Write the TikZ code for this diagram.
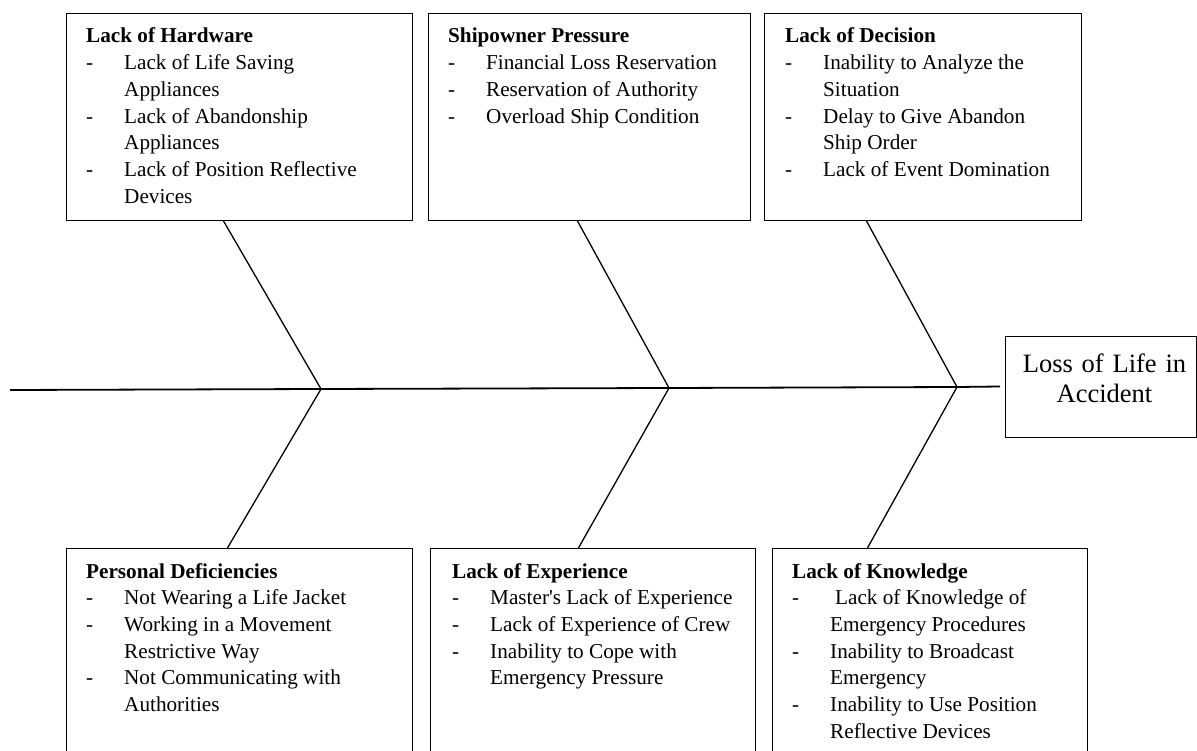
\documentclass[tikz,border=0pt]{standalone}
\usepackage{fontspec}
\setmainfont{Liberation Serif}
\usepackage{array}
\newcommand{\boxlist}[2]{%
  \begin{tabular}[t]{@{}p{38pt}@{}l@{}}\multicolumn{2}{@{}l@{}}{\textbf{#1}}\\ #2\end{tabular}}
\begin{document}
\begin{tikzpicture}[x=1pt,y=-1pt,
  catbox/.style={draw, line width=0.9pt, inner sep=0pt, anchor=north west},
  cattext/.style={anchor=base west, inner sep=0pt, font=\fontsize{21.2}{26.7}\selectfont},
  bone/.style={line width=1.3pt},
  spine/.style={line width=1.8pt},
  headbox/.style={draw, line width=0.9pt, inner sep=0pt, text width=191pt, minimum height=101pt,
    text depth=47pt, align=center, font=\fontsize{26.5}{30}\selectfont}]
\clip (0,0) rectangle (1197,751);

% top boxes
\node[catbox, minimum width=346pt, minimum height=207pt] (hw) at (66,13) {};
\node[cattext] (hwt) at (86,43) {\boxlist{Lack of Hardware}{- & Lack of Life Saving\\ & Appliances\\ - & Lack of Abandonship\\ & Appliances\\ - & Lack of Position Reflective\\ & Devices}};

\node[catbox, minimum width=322pt, minimum height=207pt] (sp) at (428,13) {};
\node[cattext] (spt) at (448,43) {\boxlist{Shipowner Pressure}{- & Financial Loss Reservation\\ - & Reservation of Authority\\ - & Overload Ship Condition}};

\node[catbox, minimum width=317pt, minimum height=207pt] (ld) at (764,13) {};
\node[cattext] (ldt) at (785,43) {\boxlist{Lack of Decision}{- & Inability to Analyze the\\ & Situation\\ - & Delay to Give Abandon\\ & Ship Order\\ - & Lack of Event Domination}};

% bottom boxes
\node[catbox, minimum width=346pt, minimum height=260pt] (pd) at (66,548) {};
\node[cattext] (pdt) at (86,578) {\boxlist{Personal Deficiencies}{- & Not Wearing a Life Jacket\\ - & Working in a Movement\\ & Restrictive Way\\ - & Not Communicating with\\ & Authorities}};

\node[catbox, minimum width=325pt, minimum height=260pt] (le) at (430,548) {};
\node[cattext] (let) at (452,578) {\boxlist{Lack of Experience}{- & Master\textquotesingle s Lack of Experience\\ - & Lack of Experience of Crew\\ - & Inability to Cope with\\ & Emergency Pressure}};

\node[catbox, minimum width=315pt, minimum height=260pt] (lk) at (772,548) {};
\node[cattext] (lkt) at (792,578) {\boxlist{Lack of Knowledge}{- & \hspace*{5pt}Lack of Knowledge of\\ & Emergency Procedures\\ - & Inability to Broadcast\\ & Emergency\\ - & Inability to Use Position\\ & Reflective Devices}};

% head
\node[headbox] (head) at (1100.5,386.5) {\hspace*{8pt}Loss of Life in\\\hspace*{8pt}Accident};

% spine
\coordinate (tail) at (10,390);
\coordinate (j1) at (321,389);
\coordinate (j2) at (669,388);
\coordinate (j3) at (957,387);
\coordinate (send) at (1000,386.5);
\draw[spine] (tail) -- (j1) -- (j2) -- (j3) -- (send);

% bones
\draw[bone] ([xshift=-16pt]hw.south) -- (j1);
\draw[bone] ([xshift=-12pt]sp.south) -- (j2);
\draw[bone] ([xshift=-56.5pt]ld.south) -- (j3);
\draw[bone] ([xshift=-12pt]pd.north) -- (j1);
\draw[bone] ([xshift=-14.5pt]le.north) -- (j2);
\draw[bone] ([xshift=-62.5pt]lk.north) -- (j3);
\end{tikzpicture}
\end{document}
